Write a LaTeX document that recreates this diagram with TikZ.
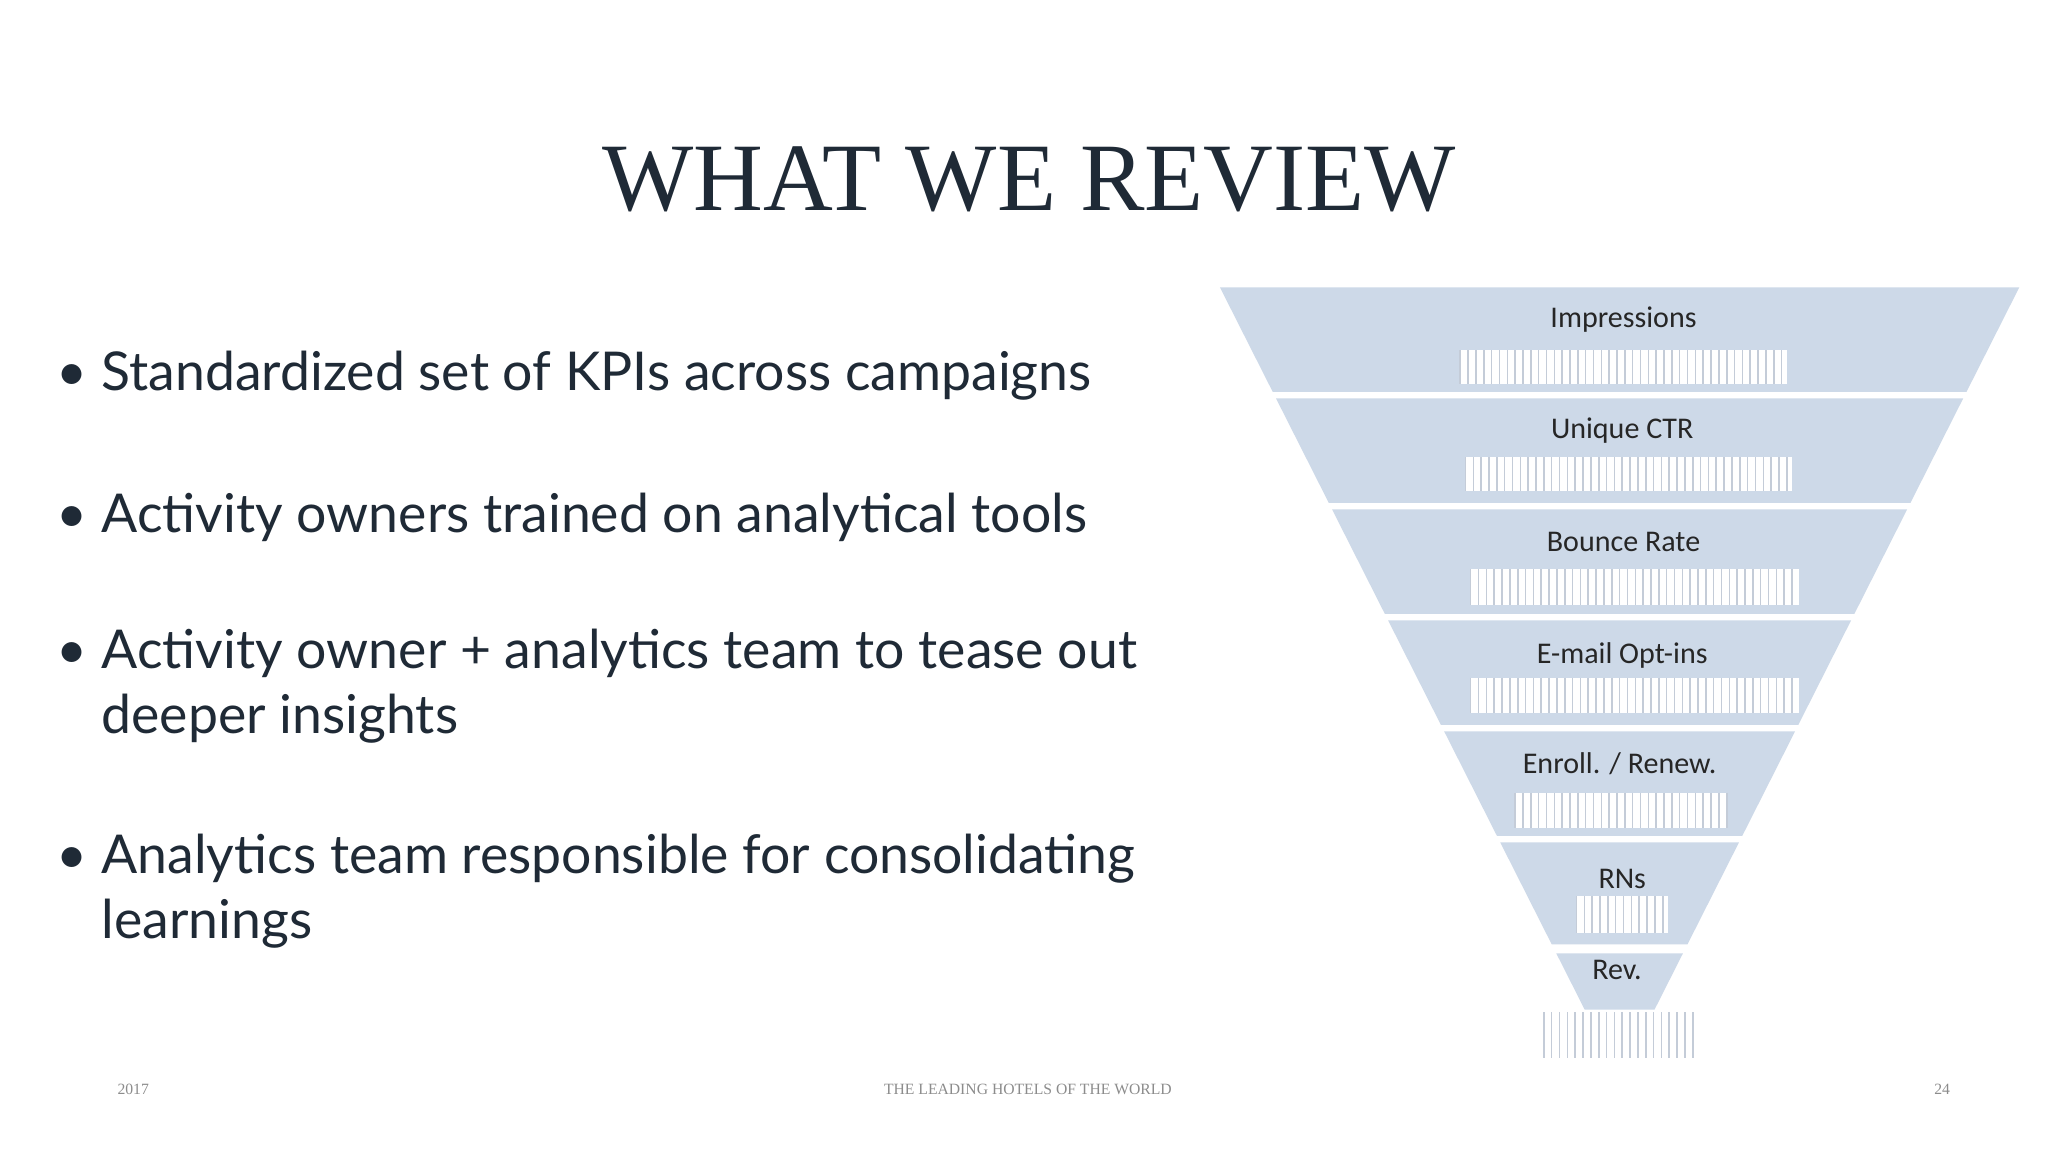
\documentclass[tikz,border=0pt]{standalone}
\usepackage{fontspec}
\setmainfont{Liberation Serif}
\newfontfamily\bulletfont{Lato}
\newfontfamily\labfont{Carlito}
\definecolor{funnel}{HTML}{CDD9E8}
\definecolor{ink}{HTML}{1F2A36}
\definecolor{foot}{HTML}{8C8C8C}
\definecolor{stripe}{HTML}{C4CCD8}
\newcommand{\stripes}[4]{% x1 x2 y1 y2
  \fill[white] (#1,#3) rectangle (#2,#4);
  \foreach \sx in {#1,...,#2}{\pgfmathparse{mod(\sx-#1,6)==0}\ifnum\pgfmathresult=1 \draw[stripe,line width=1.2pt] (\sx,#3) -- (\sx,#4);\fi}}
\begin{document}
\begin{tikzpicture}[x=1pt,y=-1pt,
  band/.style={fill=funnel,draw=none},
  lab/.style={font=\labfont\fontsize{23}{25}\selectfont,text=black!85},
  bul/.style={font=\bulletfont\fontsize{41}{50}\selectfont,text=ink,anchor=west,align=left},
  footer/.style={font=\fontsize{12}{14}\selectfont,text=foot}]
\useasboundingbox (0,0) rectangle (1568,882);
\fill[white] (0,0) rectangle (1568,882);
\node[font=\fontsize{74}{80}\selectfont,text=ink] (title) at (788,137) {WHAT WE REVIEW};
% bullets
\node[bul] (b1) at (40,288) {\textbullet\ Standardized set of KPIs across campaigns};
\node[bul] (b2) at (40,396) {\textbullet\ Activity owners trained on analytical tools};
\node[bul,anchor=north west] (b3) at (40,478) {\textbullet\ Activity owner + analytics team to tease out\\\phantom{\textbullet\ }deeper insights};
\node[bul,anchor=north west] (b4) at (40,635) {\textbullet\ Analytics team responsible for consolidating\\\phantom{\textbullet\ }learnings};
% funnel bands
\foreach \ya/\yb in {220/300,305/385,390/470,475/555,560/640,645/723,730/773}{
  \pgfmathsetmacro\wa{306-0.505*(\ya-220)}
  \pgfmathsetmacro\wb{306-0.505*(\yb-220)}
  \fill[band] (1240-\wa,\ya) -- (1240+\wa,\ya) -- (1240+\wb,\yb) -- (1240-\wb,\yb) -- cycle;}
\stripes{1118}{1368}{268}{294}
\stripes{1122}{1372}{350}{376}
\stripes{1126}{1377}{436}{463}
\stripes{1126}{1377}{519}{546}
\stripes{1160}{1323}{607}{634}
\stripes{1207}{1277}{686}{714}
\stripes{1182}{1298}{775}{810}
\node[lab] (l1) at (1243,245) {Impressions};
\node[lab] (l2) at (1242,330) {Unique CTR};
\node[lab] (l3) at (1243,415) {Bounce Rate};
\node[lab] (l4) at (1242,502) {E-mail Opt-ins};
\node[lab] (l5) at (1240,585) {Enroll. / Renew.};
\node[lab] (l6) at (1242,673) {RNs};
\node[lab] (l7) at (1238,743) {Rev.};
% footer
\node[footer] (f1) at (102,834) {2017};
\node[footer] (f2) at (787,834) {THE LEADING HOTELS OF THE WORLD};
\node[footer] (f3) at (1487,834) {24};
\end{tikzpicture}
\end{document}
